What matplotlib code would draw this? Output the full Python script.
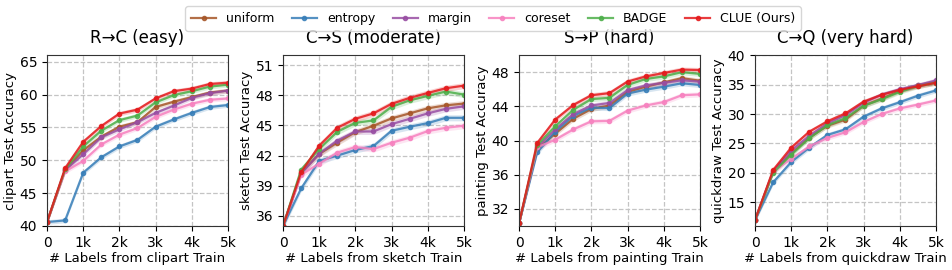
import matplotlib
matplotlib.use('Agg')
import matplotlib.pyplot as plt
import numpy as np

# labeled budget (x axis)
budget = [0, 500, 1000, 1500, 2000, 2500, 3000, 3500, 4000, 4500, 5000]

methods = ['uniform', 'entropy', 'margin', 'coreset', 'BADGE', 'CLUE (Ours)']
colors = ['#a65628', '#377eb8', '#984ea3', '#f781bf', '#4daf4a', '#e41a1c']

# R -> C (clipart)
clipart = {
    'uniform':     [40.6, 48.5, 51.5, 53.6, 55.1, 55.8, 58.1, 58.9, 59.6, 60.3, 60.6],
    'entropy':     [40.6, 40.85, 48.1, 50.45, 52.1, 53.1, 55.1, 56.2, 57.2, 58.1, 58.4],
    'margin':      [40.6, 48.5, 50.9, 53.5, 54.7, 55.8, 57.2, 58.3, 59.5, 60.2, 60.6],
    'coreset':     [40.6, 48.3, 49.9, 52.4, 53.9, 54.9, 56.6, 57.7, 58.6, 59.2, 59.4],
    'BADGE':       [40.6, 48.6, 52.1, 54.5, 56.1, 56.8, 58.8, 59.9, 60.5, 61.2, 61.5],
    'CLUE (Ours)': [40.6, 48.8, 52.8, 55.2, 57.1, 57.7, 59.4, 60.5, 60.9, 61.6, 61.8],
}
# C -> S (sketch)
sketch = {
    'uniform':     [35.0, 40.3, 42.16, 43.3, 44.34, 44.97, 45.7, 46.2, 46.7, 47.0, 47.18],
    'entropy':     [35.0, 38.73, 41.47, 42.0, 42.56, 42.95, 44.47, 44.87, 45.23, 45.76, 45.76],
    'margin':      [35.0, 40.2, 42.2, 43.5, 44.4, 44.4, 45.13, 45.66, 46.2, 46.65, 46.9],
    'coreset':     [35.0, 40.1, 41.2, 42.3, 42.85, 42.65, 43.28, 43.78, 44.44, 44.77, 44.97],
    'BADGE':       [35.0, 40.6, 42.66, 44.37, 45.26, 45.5, 46.85, 47.5, 47.94, 48.37, 48.07],
    'CLUE (Ours)': [35.0, 40.35, 42.99, 44.77, 45.66, 46.2, 47.15, 47.74, 48.23, 48.7, 48.96],
}
# S -> P (painting)
painting = {
    'uniform':     [30.3, 39.0, 40.8, 42.55, 43.7, 44.1, 45.7, 46.3, 46.8, 47.3, 47.0],
    'entropy':     [30.3, 38.6, 41.05, 42.9, 43.85, 43.8, 45.5, 45.95, 46.3, 46.7, 46.5],
    'margin':      [30.3, 39.2, 41.3, 43.1, 44.1, 44.4, 45.9, 46.45, 46.75, 47.05, 46.9],
    'coreset':     [30.3, 39.2, 40.1, 41.3, 42.25, 42.3, 43.5, 44.1, 44.5, 45.3, 45.4],
    'BADGE':       [30.3, 39.45, 41.67, 43.6, 44.85, 45.0, 46.5, 47.2, 47.5, 48.0, 47.8],
    'CLUE (Ours)': [30.3, 39.7, 42.45, 44.16, 45.3, 45.55, 46.9, 47.5, 47.9, 48.3, 48.25],
}
# C -> Q (quickdraw)
quickdraw = {
    'uniform':     [12.0, 20.2, 23.3, 26.0, 28.0, 29.05, 31.4, 32.6, 33.9, 34.9, 35.45],
    'entropy':     [12.0, 18.4, 21.85, 24.3, 26.45, 27.4, 29.55, 30.95, 32.0, 33.1, 34.0],
    'margin':      [12.0, 20.3, 23.8, 26.3, 28.4, 29.8, 31.9, 33.3, 34.2, 34.9, 35.7],
    'coreset':     [12.0, 20.2, 22.4, 24.5, 25.95, 26.9, 28.65, 30.0, 30.95, 31.6, 32.3],
    'BADGE':       [12.0, 20.05, 23.1, 25.9, 28.1, 29.3, 31.4, 32.5, 33.75, 34.7, 35.3],
    'CLUE (Ours)': [12.0, 20.5, 24.3, 27.0, 28.75, 30.1, 32.1, 33.25, 34.1, 34.7, 35.3],
}

datasets = [clipart, sketch, painting, quickdraw]
domains = ['clipart', 'sketch', 'painting', 'quickdraw']
titles = ['R\u2192C (easy)', 'C\u2192S (moderate)', 'S\u2192P (hard)', 'C\u2192Q (very hard)']
ylims = [(40, 66), (35, 52), (30, 50), (11, 40)]
yticks = [[40, 45, 50, 55, 60, 65], [36, 39, 42, 45, 48, 51],
          [32, 36, 40, 44, 48], [15, 20, 25, 30, 35, 40]]
bands = [0.35, 0.3, 0.3, 0.4]  # approx. shaded std width per panel

fig = plt.figure(figsize=(9.52, 2.7), dpi=100)
lefts = [0.0494, 0.2973, 0.5452, 0.7931]
handles = []
for i, data in enumerate(datasets):
    ax = fig.add_axes([lefts[i], 0.163, 0.190, 0.633])
    x = np.array(budget)
    for m, c in zip(methods, colors):
        y = np.array(data[m])
        ax.fill_between(x, y - bands[i], y + bands[i], color=c, alpha=0.2, lw=0)
        h, = ax.plot(x, y, color=c, marker='o', markersize=3, lw=1.6, alpha=0.85, label=m)
        if i == 0:
            handles.append(h)
    ax.set_xlim(0, 5000)
    ax.set_ylim(*ylims[i])
    ax.set_xticks([0, 1000, 2000, 3000, 4000, 5000])
    ax.set_xticklabels(['0', '1k', '2k', '3k', '4k', '5k'])
    ax.set_yticks(yticks[i])
    ax.tick_params(labelsize=10, length=3.5)
    ax.grid(True, ls='--', color='#c4c4c4', lw=0.9)
    ax.set_axisbelow(True)
    for s in ax.spines.values():
        s.set_color('#333333')
    ax.set_title(titles[i], fontsize=12, pad=9)
    ax.set_ylabel(domains[i] + ' Test Accuracy', fontsize=9.5, labelpad=2)
    ax.set_xlabel('# Labels from ' + domains[i] + ' Train', fontsize=9.5, labelpad=2)

fig.legend(handles=handles, labels=methods, loc='upper center', ncol=6,
           bbox_to_anchor=(0.518, 1.0), fontsize=9, frameon=True,
           handlelength=2.0, columnspacing=1.4, borderpad=0.45, handletextpad=0.8)
plt.savefig('out.png', dpi=100)
plt.close()
